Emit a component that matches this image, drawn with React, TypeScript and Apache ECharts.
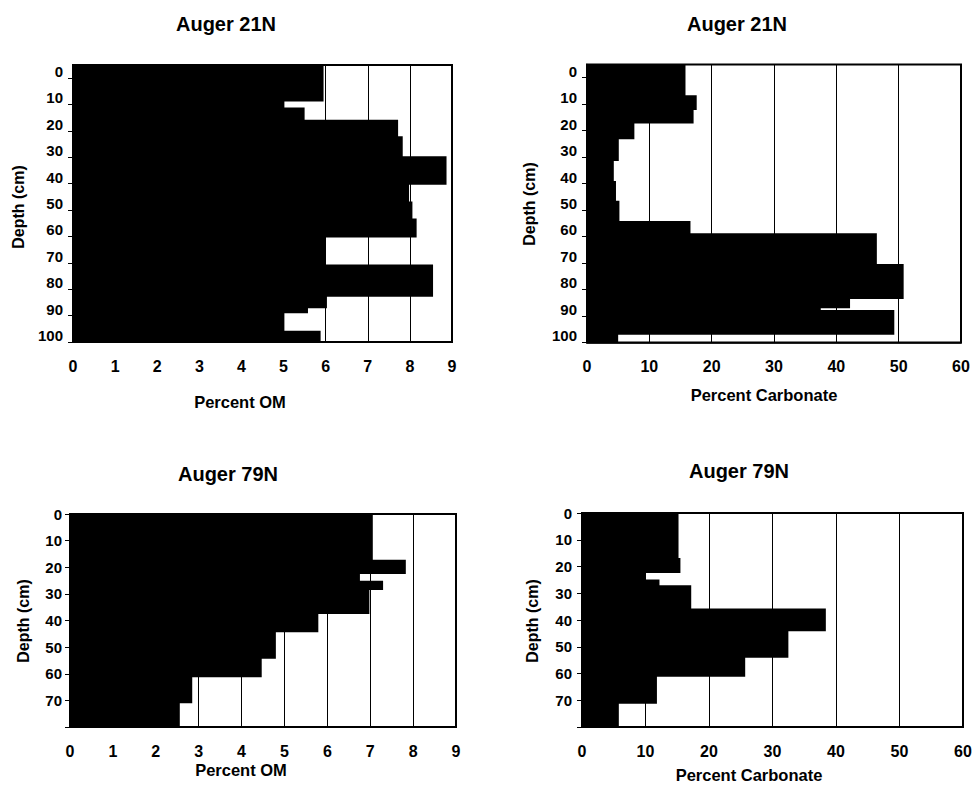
import React, { useEffect, useRef } from "react";
import * as echarts from "echarts";

// ---- Data (depth boundaries in cm along the plotted depth scale, values per interval) ----
// Auger 21N – Percent OM
const A21_OM_DEPTHS = [-2.5, 11, 13.9, 18.6, 24.8, 32.4, 42.6, 49.5, 56, 62.6, 73.4, 85, 89.4, 91.3, 98.5, 102.5];
const A21_OM_VALUES = [5.95, 5.02, 5.5, 7.72, 7.83, 8.87, 7.98, 8.06, 8.16, 6.0, 8.55, 6.03, 5.58, 5.02, 5.88];
// Auger 21N – Percent Carbonate
const A21_CARB_DEPTHS = [-2.5, 9.4, 14.4, 19.5, 25.4, 33.6, 41.8, 49.3, 56.9, 61.5, 73.2, 85.8, 89.3, 90.5, 99.3, 102.5];
const A21_CARB_VALUES = [15.8, 17.6, 17.1, 7.6, 5.1, 4.3, 4.65, 5.2, 16.6, 46.5, 50.8, 42.2, 37.5, 49.3, 5.0];
// Auger 79N – Percent OM
const A79_OM_DEPTHS = [0, 17.5, 22.25, 25.4, 28.25, 37.25, 44.1, 54.1, 61, 70.75, 80];
const A79_OM_VALUES = [7.06, 7.83, 6.76, 7.3, 6.98, 5.79, 4.8, 4.47, 2.85, 2.56];
// Auger 79N – Percent Carbonate
const A79_CARB_DEPTHS = [0, 17.1, 22.1, 25.2, 27.3, 36, 43.9, 53.8, 60.9, 71.0, 80];
const A79_CARB_VALUES = [15.2, 15.5, 10.0, 12.2, 17.2, 38.4, 32.5, 25.7, 11.8, 5.8];

// Tick labels
const TOP_DEPTH_LABELS = [0, 10, 20, 30, 40, 50, 60, 70, 80, 90, 100];
const TOP_DEPTH_TICKS = [2.5, 12.5, 22.5, 32.5, 42.5, 52.5, 62.5, 72.5, 82.5, 92.5, 102.5];
const BOTTOM_DEPTH_LABELS = [0, 10, 20, 30, 40, 50, 60, 70];
const BOTTOM_DEPTH_TICKS = [0, 10, 20, 30, 40, 50, 60, 70, 80];

const TITLES = ["Auger 21N", "Auger 21N", "Auger 79N", "Auger 79N"];
const X_NAMES = ["Percent OM", "Percent Carbonate", "Percent OM", "Percent Carbonate"];
const Y_NAME = "Depth (cm)";

const FONT = "'Liberation Sans', Arial, Helvetica, sans-serif";

function toIntervals(depths: number[], values: number[]) {
  return values.map((v, i) => [depths[i], depths[i + 1], v]);
}

const renderBar = (params: any, api: any) => {
  const d0 = api.value(0);
  const d1 = api.value(1);
  const v = api.value(2);
  const p0 = api.coord([0, d0]);
  const p1 = api.coord([v, d1]);
  const overlap = 0.8;
  return {
    type: "rect",
    shape: {
      x: p0[0] - 1,
      y: p0[1] - overlap,
      width: p1[0] - p0[0] + 1,
      height: p1[1] - p0[1] + 2 * overlap,
    },
    style: { fill: "#000" },
  };
};

export default function App() {
  const ref = useRef<HTMLDivElement>(null);

  useEffect(() => {
    if (!ref.current) return;
    const chart = echarts.init(ref.current, undefined, { renderer: "svg" });

    const grids = [
      { left: 73, top: 65, width: 379, height: 277 },
      { left: 587, top: 64.5, width: 374, height: 278 },
      { left: 70, top: 514, width: 386, height: 213 },
      { left: 582, top: 513, width: 381, height: 214 },
    ];

    const xCfg = [
      { max: 9, interval: 1 },
      { max: 60, interval: 10 },
      { max: 9, interval: 1 },
      { max: 60, interval: 10 },
    ];

    const labelStyle = { color: "#000", fontWeight: "bold" as const, fontFamily: FONT };

    const xAxis = xCfg.map((c, i) => ({
      type: "value" as const,
      gridIndex: i,
      min: 0,
      max: c.max,
      interval: c.interval,
      axisLine: { show: true, onZero: false, lineStyle: { color: "#000", width: 1.5 } },
      axisTick: { show: false },
      axisLabel: { ...labelStyle, fontSize: 16, margin: 16 },
      splitLine: { show: true, lineStyle: { color: "#000", width: 1 } },
    }));

    const yAxis = [0, 1, 2, 3].map((i) => {
      const top = i < 2;
      return {
        type: "value" as const,
        gridIndex: i,
        inverse: true,
        min: top ? -2.5 : 0,
        max: top ? 102.5 : 80,
        axisLine: { show: true, onZero: false, lineStyle: { color: "#000", width: 1.5 } },
        axisTick: {
          show: true,
          length: 5,
          inside: false,
          customValues: top ? TOP_DEPTH_TICKS : BOTTOM_DEPTH_TICKS,
          lineStyle: { color: "#000", width: 1 },
        },
        axisLabel: {
          ...labelStyle,
          fontSize: 15,
          margin: i === 2 ? 8 : 10,
          customValues: top ? TOP_DEPTH_LABELS : BOTTOM_DEPTH_LABELS,
        },
        splitLine: { show: false },
      };
    });

    const datasets = [
      toIntervals(A21_OM_DEPTHS, A21_OM_VALUES),
      toIntervals(A21_CARB_DEPTHS, A21_CARB_VALUES),
      toIntervals(A79_OM_DEPTHS, A79_OM_VALUES),
      toIntervals(A79_CARB_DEPTHS, A79_CARB_VALUES),
    ];

    const series = datasets.map((data, i) => ({
      type: "custom" as const,
      xAxisIndex: i,
      yAxisIndex: i,
      clip: true,
      renderItem: renderBar,
      encode: { x: 2, y: [0, 1] },
      data,
      z: 3,
    }));

    const textEl = (text: string, x: number, y: number, size: number, rotation = 0) => ({
      type: "text" as const,
      x,
      y,
      rotation,
      style: {
        text,
        fill: "#000",
        fontSize: size,
        fontWeight: "bold",
        fontFamily: FONT,
        align: "center",
        verticalAlign: "middle",
      },
    });

    const titlePos = [
      [226, 24],
      [737, 24],
      [228, 474],
      [739, 471],
    ];
    const xNamePos = [
      [240, 402],
      [764, 395],
      [241, 770],
      [749, 775],
    ];
    const yNamePos = [
      [18, 207],
      [529, 204],
      [23, 621],
      [532, 621],
    ];

    const graphic: any[] = [];
    for (let i = 0; i < 4; i++) {
      graphic.push(textEl(TITLES[i], titlePos[i][0], titlePos[i][1], 20));
      graphic.push(textEl(X_NAMES[i], xNamePos[i][0], xNamePos[i][1], 16.5));
      graphic.push(textEl(Y_NAME, yNamePos[i][0], yNamePos[i][1], 16, Math.PI / 2));
    }

    chart.setOption({
      animation: false,
      backgroundColor: "#fff",
      grid: grids.map((g) => ({ ...g, show: true, borderColor: "#000", borderWidth: 2, containLabel: false })),
      xAxis,
      yAxis,
      series,
      graphic,
    });

    return () => chart.dispose();
  }, []);

  return (
    <div
      ref={ref}
      style={{ position: "absolute", left: 0, top: 0, width: 976, height: 785, background: "#fff" }}
    />
  );
}
